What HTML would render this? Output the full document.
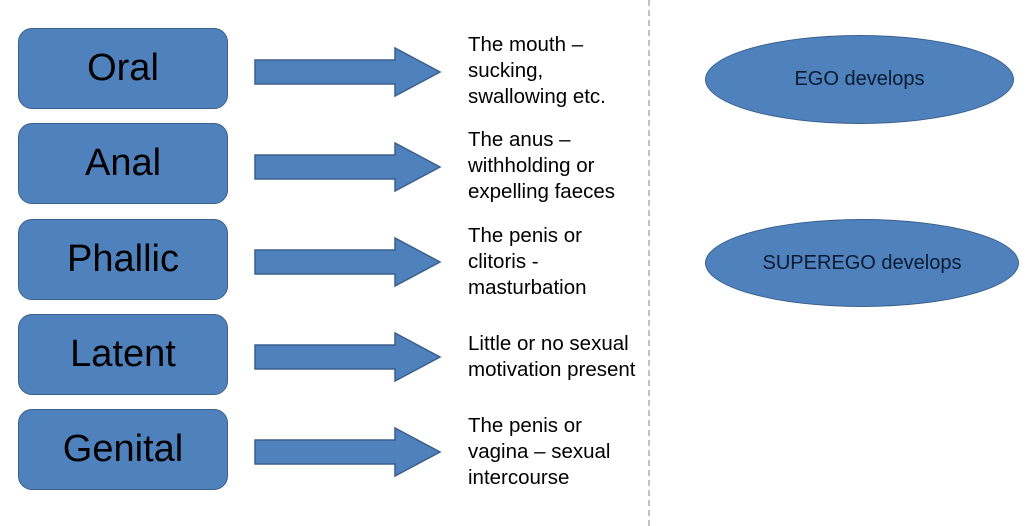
<!DOCTYPE html>
<html><head><style>
body{margin:0;width:1036px;height:526px;background:#fff;position:relative;overflow:hidden;font-family:"Liberation Sans",sans-serif}
.b{position:absolute;left:18px;width:208px;height:79px;background:#4f81bd;border:1.5px solid #3a5f8c;border-radius:14px;display:flex;align-items:center;justify-content:center;font-size:38px;color:#000}
.t{position:absolute;left:468px;font-size:20.5px;line-height:26px;color:#000;white-space:nowrap}
.e{position:absolute;background:#4f81bd;border:1.5px solid #3a5f8c;border-radius:50%;display:flex;align-items:center;justify-content:center;font-size:20px;color:#0a1a33}
</style></head><body>
<div class="b" style="top:28px">Oral</div>
<div class="b" style="top:123px">Anal</div>
<div class="b" style="top:219px">Phallic</div>
<div class="b" style="top:314px">Latent</div>
<div class="b" style="top:409px">Genital</div>
<svg width="1036" height="526" style="position:absolute;left:0;top:0">
<g fill="#4f81bd" stroke="#3a5f8c" stroke-width="1.5">
<polygon points="255,60 395,60 395,48 440,72 395,96 395,84 255,84"/>
<polygon points="255,155 395,155 395,143 440,167 395,191 395,179 255,179"/>
<polygon points="255,250 395,250 395,238 440,262 395,286 395,274 255,274"/>
<polygon points="255,345 395,345 395,333 440,357 395,381 395,369 255,369"/>
<polygon points="255,440 395,440 395,428 440,452 395,476 395,464 255,464"/>
</g>
<line x1="649" y1="0" x2="649" y2="526" stroke="#999" stroke-width="1.2" stroke-dasharray="6,4"/>
</svg>
<div class="t" style="top:32px">The mouth –<br>sucking,<br>swallowing etc.</div>
<div class="t" style="top:127px">The anus –<br>withholding or<br>expelling faeces</div>
<div class="t" style="top:223px">The penis or<br>clitoris -<br>masturbation</div>
<div class="t" style="top:331px">Little or no sexual<br>motivation present</div>
<div class="t" style="top:413px">The penis or<br>vagina – sexual<br>intercourse</div>
<div class="e" style="left:705px;top:35px;width:307px;height:87px">EGO develops</div>
<div class="e" style="left:705px;top:219px;width:312px;height:86px">SUPEREGO develops</div>
</body></html>
